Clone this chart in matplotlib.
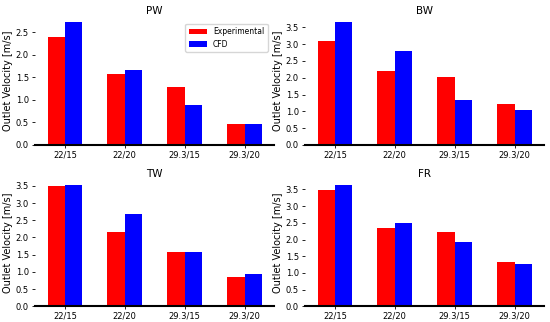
import matplotlib
matplotlib.use("Agg")
import matplotlib.pyplot as plt
from matplotlib.ticker import MultipleLocator
import numpy as np

conditions = ["22/15", "22/20", "29.3/15", "29.3/20"]
panels = ["PW", "BW", "TW", "FR"]

exp_pw = [2.40, 1.57, 1.28, 0.47]
cfd_pw = [2.72, 1.66, 0.89, 0.47]
exp_bw = [3.08, 2.20, 2.03, 1.22]
cfd_bw = [3.65, 2.78, 1.35, 1.03]
exp_tw = [3.50, 2.16, 1.59, 0.84]
cfd_tw = [3.51, 2.67, 1.57, 0.95]
exp_fr = [3.48, 2.35, 2.24, 1.33]
cfd_fr = [3.62, 2.50, 1.94, 1.27]

exp_all = [exp_pw, exp_bw, exp_tw, exp_fr]
cfd_all = [cfd_pw, cfd_bw, cfd_tw, cfd_fr]

fig = plt.figure(figsize=(5.5, 3.22), dpi=100)
# axes boxes in figure fraction (left, bottom, width, height)
boxes = [
    [0.0636, 0.5497, 0.4345, 0.4006],
    [0.5545, 0.5497, 0.4345, 0.4006],
    [0.0636, 0.0488, 0.4345, 0.394],
    [0.5545, 0.0488, 0.4345, 0.394],
]

x = np.arange(len(conditions))
w = 0.29
for i in range(4):
    ax = fig.add_axes(boxes[i])
    ax.bar(x - w / 2, exp_all[i], w, color="red", label="Experimental")
    ax.bar(x + w / 2, cfd_all[i], w, color="blue", label="CFD")
    ax.set_xlim(-0.5, 3.49)
    ax.set_xticks(x)
    ax.set_xticklabels(conditions, fontsize=6)
    ax.yaxis.set_major_locator(MultipleLocator(0.5))
    ax.tick_params(axis="y", labelsize=6, length=2.5, width=0.6, pad=2)
    ax.tick_params(axis="x", length=2, width=0.6, pad=2)
    ax.set_title(panels[i], fontsize=7.5, pad=1.5)
    ax.set_ylabel("Outlet Velocity [m/s]", fontsize=7, labelpad=2)
    for s in ["top", "right", "left"]:
        ax.spines[s].set_visible(False)
    ax.spines["bottom"].set_linewidth(1.5)
    ax.spines["bottom"].set_color("black")
    if i == 0:
        ax.legend(fontsize=5.5, loc="upper right", handlelength=2.4,
                  borderpad=0.45, labelspacing=0.45,
                  bbox_to_anchor=(0.99, 0.97))

fig.savefig("out.png", dpi=100)
